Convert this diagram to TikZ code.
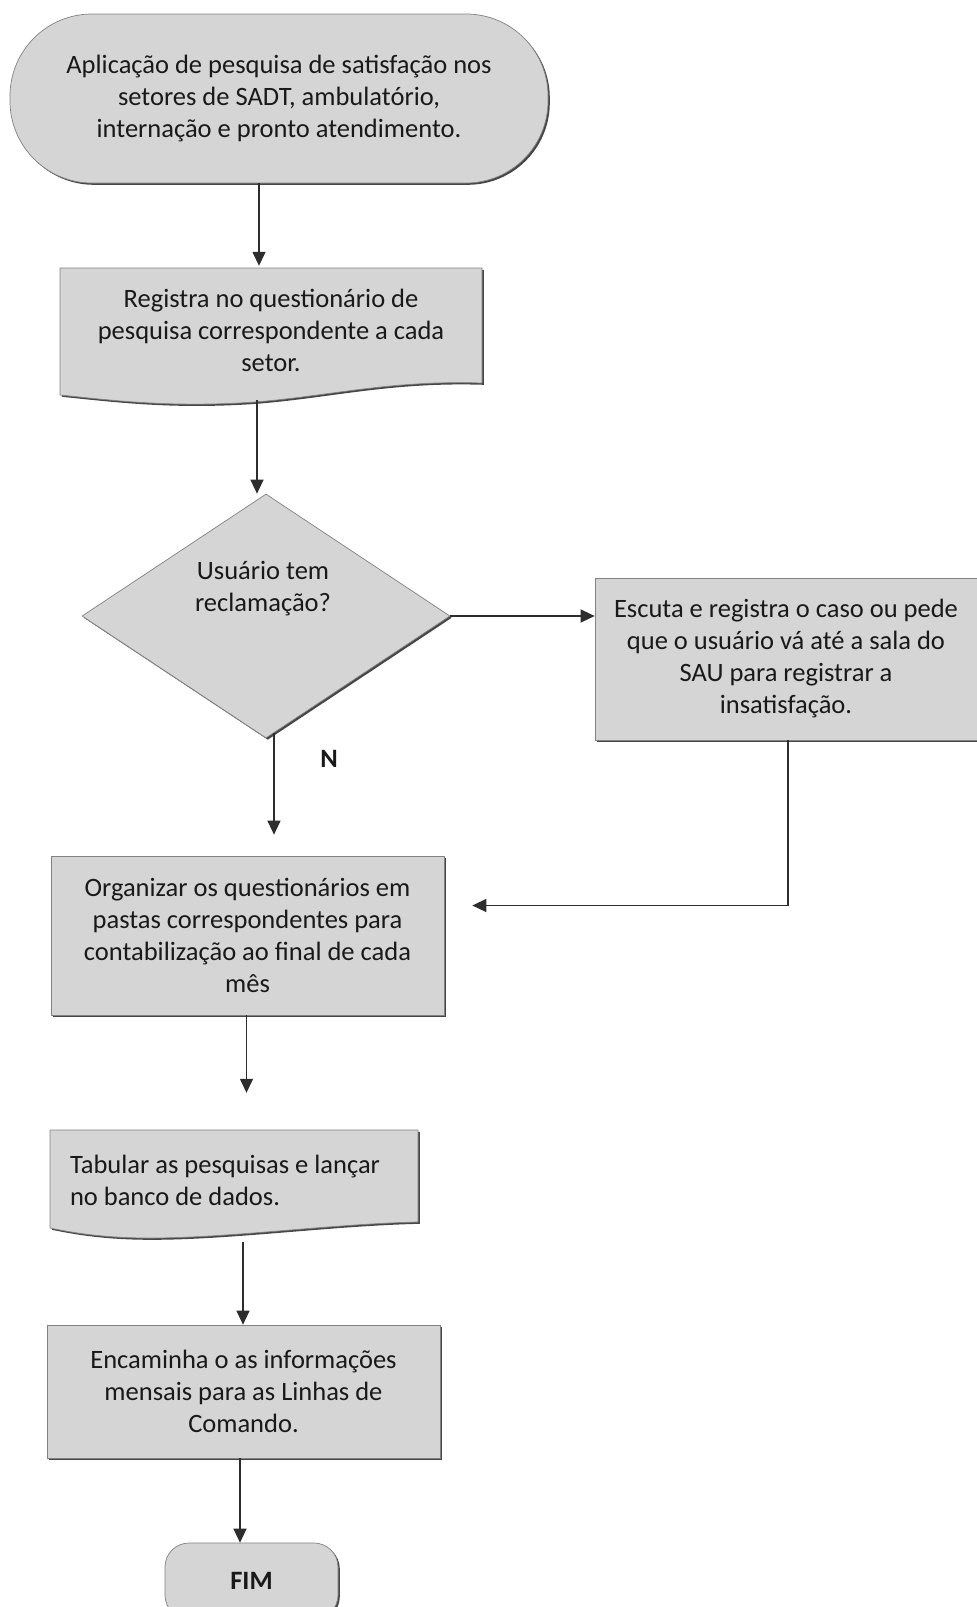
\documentclass[tikz,border=0pt]{standalone}
\usepackage{fontspec}
\setmainfont{Carlito}
\usetikzlibrary{shapes.geometric,arrows.meta,shadows}
\definecolor{boxfill}{RGB}{213,213,213}
\definecolor{edgec}{RGB}{130,130,130}
\definecolor{shadc}{RGB}{70,70,70}
\definecolor{inkc}{RGB}{25,25,25}
\definecolor{arrc}{RGB}{45,45,45}
\newcommand\flowfont{\fontsize{26.5}{32}\selectfont}
\tikzset{
  shad/.style={drop shadow={shadow xshift=1.8pt,shadow yshift=-1.8pt,fill=shadc,opacity=1}},
  boxbase/.style={fill=boxfill, draw=edgec, line width=0.7pt, shad, text=inkc, font=\flowfont, align=center, inner sep=0pt},
  term/.style={boxbase, rectangle, rounded corners=82pt},
  proc/.style={boxbase, rectangle},
  dec/.style={boxbase, diamond},
  docnode/.style={rectangle, inner ysep=0pt, text=inkc, font=\flowfont},
  docshape/.style={fill=boxfill, draw=edgec, line width=0.7pt},
  docshadow/.style={fill=shadc},
  lbl/.style={text=inkc, font=\flowfont, align=center, inner sep=0pt},
  arr/.style={draw=arrc, line width=1.4pt, -{Triangle[width=13pt,length=14pt]}},
}
\begin{document}
\begin{tikzpicture}[x=1pt,y=-1pt]
\useasboundingbox (0,0) rectangle (977,1607);
\clip (0,0) rectangle (977,1607);
% document shapes (wavy bottom)
\path[docshadow, shift={(1.8,1.8)}] (60,268) -- (482,268) -- (482,383) .. controls (390,380) and (330,396) .. (255,402) .. controls (170,408) and (110,400) .. (60,395) -- cycle;
\path[docshape] (60,268) -- (482,268) -- (482,383) .. controls (390,380) and (330,396) .. (255,402) .. controls (170,408) and (110,400) .. (60,395) -- cycle;
\path[docshadow, shift={(1.8,1.8)}] (50,1130) -- (418,1130) -- (418,1222) .. controls (330,1224) and (230,1238) .. (150,1238) .. controls (100,1238) and (70,1232) .. (50,1228) -- cycle;
\path[docshape] (50,1130) -- (418,1130) -- (418,1222) .. controls (330,1224) and (230,1238) .. (150,1238) .. controls (100,1238) and (70,1232) .. (50,1228) -- cycle;
% nodes
\node[term, minimum width=538pt, minimum height=169pt] (start) at (279,98.5)
  {Aplicação de pesquisa de satisfação nos\\ setores de SADT, ambulatório,\\ internação e pronto atendimento.};
\node[docnode, text width=402pt, inner xsep=10pt, align=flush center, minimum height=120pt] (reg) at (271,330)
  {Registra no questionário de\\ pesquisa correspondente a cada\\ setor.};
\node[dec, minimum width=368pt, minimum height=244pt] (dia) at (266,616) {};
\node[lbl] (diaq) at (263,589) {Usuário tem\\ reclamação?};
\node[proc, minimum width=382pt, minimum height=162pt] (esc) at (786,659)
  {Escuta e registra o caso ou pede\\ que o usuário vá até a sala do\\ SAU para registrar a\\ insatisfação.};
\node[proc, minimum width=393pt, minimum height=159pt] (org) at (247.5,935.5)
  {Organizar os questionários em\\ pastas correspondentes para\\ contabilização ao final de cada\\ mês};
\node[docnode, text width=328pt, inner xsep=20pt, align=flush left, minimum height=100pt] (tab) at (234,1180)
  {Tabular as pesquisas e lançar\\ no banco de dados.};
\node[proc, minimum width=393pt, minimum height=133pt] (enc) at (243.5,1391.5)
  {Encaminha o as informações\\ mensais para as Linhas de\\ Comando.};
\node[term, rounded corners=24pt, minimum width=173pt, minimum height=76pt, font=\flowfont\bfseries] (fim) at (251.5,1581) {FIM};
\node[lbl, font=\flowfont\bfseries] (nlab) at (329,759) {N};
% connectors
\coordinate (c1) at ([xshift=-20pt]start.south);
\draw[arr, shorten >=4pt] (c1) -- (c1 |- reg.north);
\coordinate (c2) at ([xshift=-14pt,yshift=-10pt]reg.south);
\draw[arr] (c2) -- (c2 |- dia.north);
\coordinate (c3) at ([xshift=8pt,yshift=5pt]dia.south);
\draw[arr, shorten >=21pt] (c3) -- (c3 |- org.north);
\draw[arr] (dia.east) -- (dia.east -| esc.west);
\coordinate (c4) at ([xshift=2pt]esc.south);
\coordinate (c5) at ([yshift=30pt]org.east);
\draw[arr, shorten >=28pt] (c4) |- (c5);
\coordinate (c6) at ([xshift=-1pt]org.south);
\draw[arr, shorten >=37pt] (c6) -- (c6 |- tab.north);
\coordinate (c7) at ([xshift=9pt,yshift=-12pt]tab.south);
\draw[arr] (c7) -- (c7 |- enc.north);
\coordinate (c8) at ([xshift=-3.5pt]enc.south);
\draw[arr] (c8) -- (c8 |- fim.north);
\end{tikzpicture}
\end{document}
